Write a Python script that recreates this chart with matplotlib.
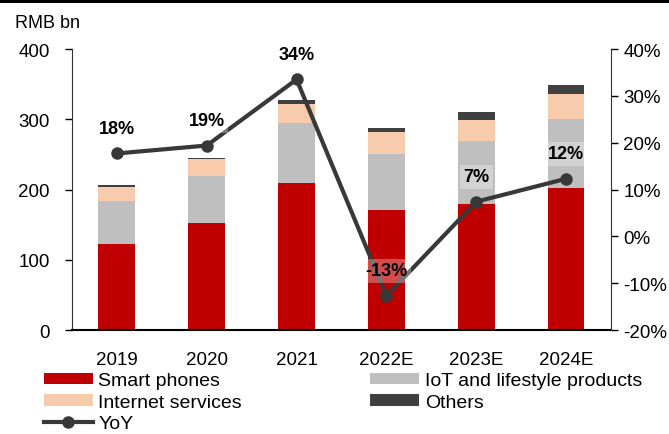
import numpy as np
import matplotlib
matplotlib.use("Agg")
import matplotlib.pyplot as plt
from matplotlib.patches import Rectangle

plt.rcParams['font.family'] = ['Liberation Sans', 'DejaVu Sans']

years = ['2019', '2020', '2021', '2022E', '2023E', '2024E']
smart_phones = [122, 152, 209, 171, 180, 202]
iot = [62, 67, 85, 79, 89, 98]
internet = [20, 24, 28, 32, 30, 36]
others = [2, 2, 6, 5, 11, 13]
yoy = [17.7, 19.4, 33.5, -12.7, 7.4, 12.3]
yoy_labels = ['18%', '19%', '34%', '-13%', '7%', '12%']

c_red = '#C00000'
c_gray = '#BFBFBF'
c_peach = '#F8CBAD'
c_dark = '#404040'
c_line = '#383838'

fig = plt.figure(figsize=(6.69, 4.35), dpi=100)
ax = fig.add_axes([0.1076, 0.239, 0.8057, 0.646])
ax2 = ax.twinx()

x = np.arange(len(years))
w = 0.41
sp = np.array(smart_phones)
io = np.array(iot)
it = np.array(internet)
b1 = ax.bar(x, sp, w, color=c_red, label='Smart phones', zorder=2)
b2 = ax.bar(x, io, w, bottom=sp, color=c_gray, label='IoT and lifestyle products', zorder=2)
b3 = ax.bar(x, it, w, bottom=sp + io, color=c_peach, label='Internet services', zorder=2)
b4 = ax.bar(x, others, w, bottom=sp + io + it, color=c_dark, label='Others', zorder=2)

ax.set_ylim(0, 400)
ax.set_xlim(-0.5, 5.5)
ax.set_yticks([0, 100, 200, 300, 400])
ax.set_xticks(x)
ax.set_xticklabels(years)
ax.tick_params(axis='y', direction='out', length=5, width=1, pad=11, labelsize=13.5, colors='black')
ax.tick_params(axis='x', length=0, pad=15, labelsize=13.5)
for s in ['top', 'right']:
    ax.spines[s].set_visible(False)
ax.spines['left'].set_color('#333333')
ax.spines['bottom'].set_color('black')
ax.spines['bottom'].set_linewidth(1.5)

l1, = ax2.plot(x, yoy, color=c_line, lw=3, marker='o', markersize=8, label='YoY', zorder=3)
ax2.set_ylim(-20, 40)
ax2.set_yticks(range(-20, 41, 10))
ax2.set_yticklabels([f'{v}%' for v in range(-20, 41, 10)])
ax2.tick_params(axis='y', direction='out', length=5, width=1, pad=4, labelsize=13.5)
for s in ['top', 'left', 'bottom']:
    ax2.spines[s].set_visible(False)
ax2.spines['right'].set_color('#333333')

for xi, v, t in zip(x, yoy, yoy_labels):
    ax2.annotate(t, (xi, v), xytext=(0, 25), textcoords='offset pixels',
                 ha='center', va='center', fontsize=13, fontweight='bold',
                 bbox=dict(boxstyle='square,pad=0.2', fc='white', ec='none', alpha=0.3),
                 zorder=4)

fig.text(0.022, 0.946, 'RMB bn', fontsize=13, ha='left', va='center')

handles = [b1, b3, l1, b2, b4]
labels = [h.get_label() for h in handles]
leg = fig.legend(handles, labels, loc='upper left', bbox_to_anchor=(0.0658, 0.1415),
                 ncol=2, frameon=False, fontsize=14, handlelength=2.5, handleheight=0.55,
                 handletextpad=0.3, labelspacing=0.23, columnspacing=6.6, borderaxespad=0,
                 borderpad=0)

fig.add_artist(Rectangle((0, 1 - 4 / 435), 1, 4 / 435, transform=fig.transFigure,
                         color='black', lw=0))

fig.savefig('out.png', dpi=100)
